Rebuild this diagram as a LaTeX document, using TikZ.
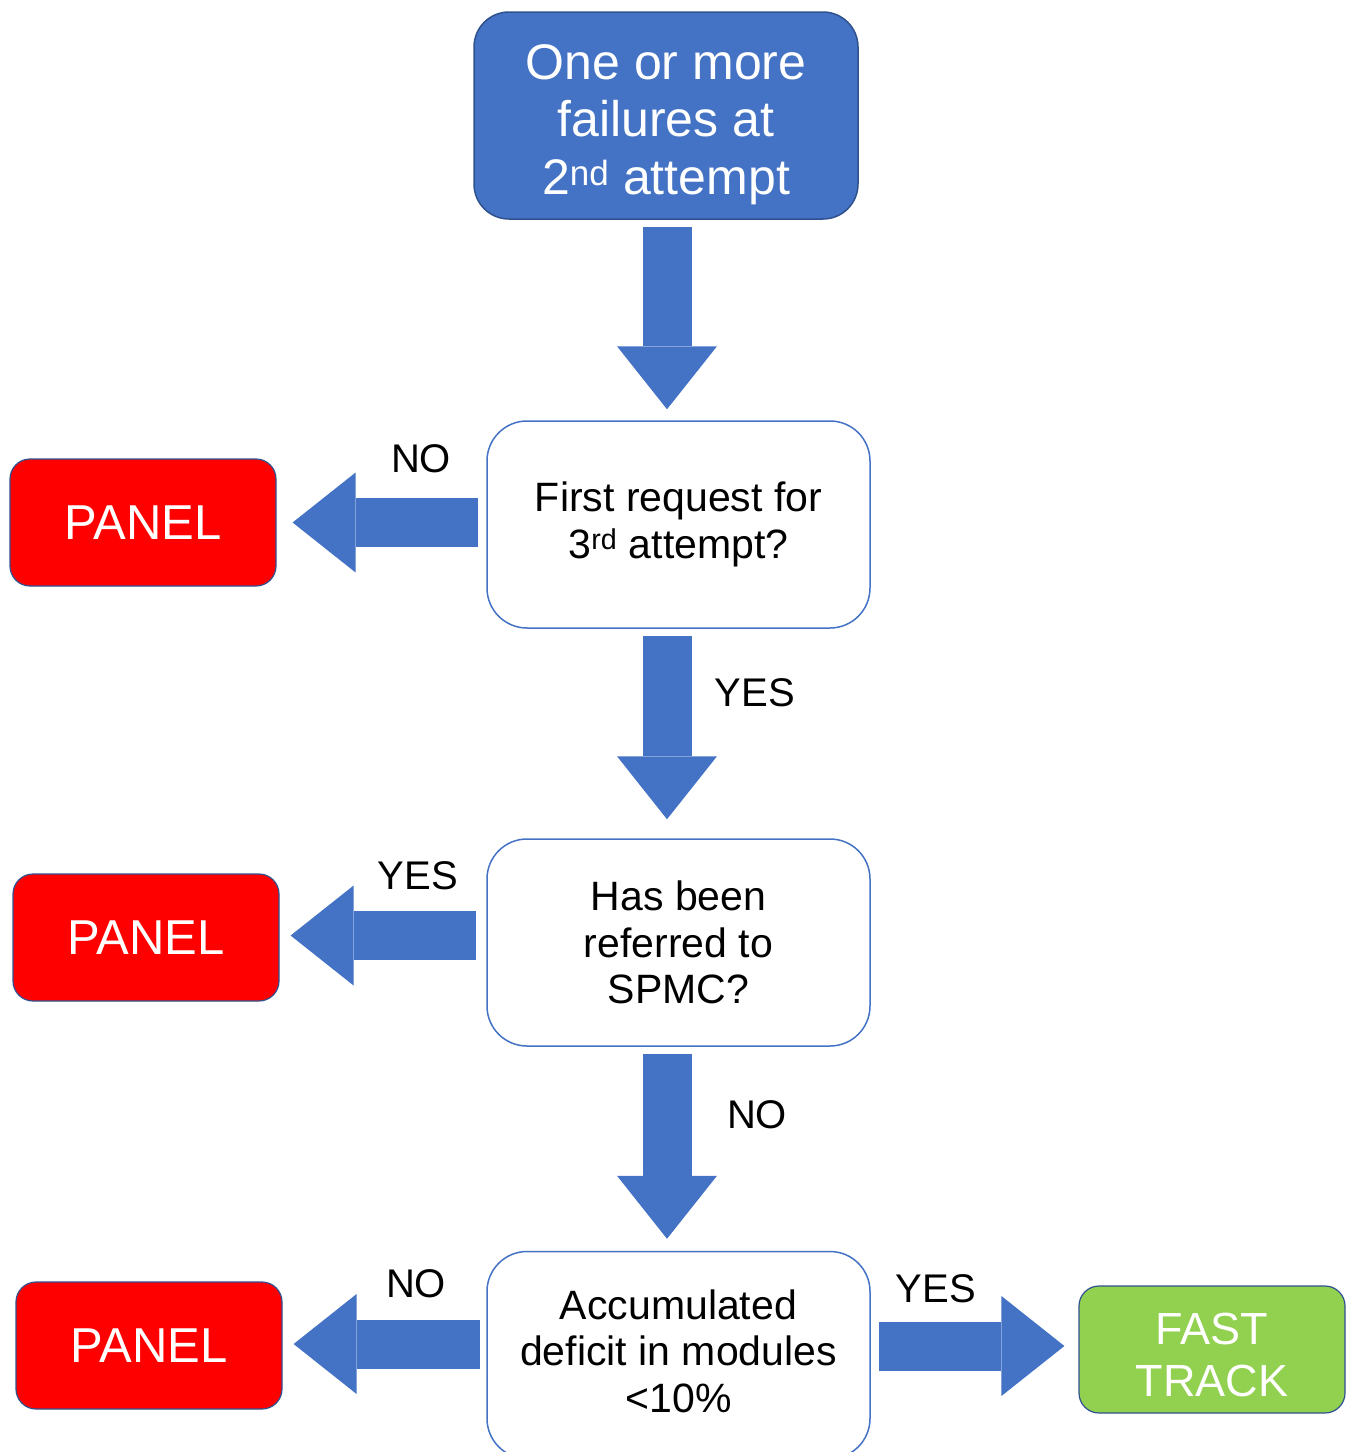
\documentclass[tikz,border=0pt]{standalone}
\usepackage{fontspec}
\setmainfont{Liberation Sans}
\usetikzlibrary{calc,arrows.meta}
\definecolor{ablue}{HTML}{4472C4}
\definecolor{dblue}{HTML}{2F528F}
\definecolor{pred}{HTML}{FF0000}
\definecolor{fgreen}{HTML}{92D050}
\begin{document}
\begin{tikzpicture}[x=1pt,y=-1pt,
  startbox/.style={draw=dblue, line width=1.5pt, fill=ablue, rounded corners=35pt,
    minimum width=384pt, minimum height=207pt, align=center, inner sep=0pt,
    text=white, font=\fontsize{50}{57.5}\selectfont, text depth=0pt, text height=157.5pt},
  qbox/.style={draw=ablue, line width=1.5pt, fill=white, rounded corners=40pt,
    minimum width=383pt, minimum height=207pt, align=center, inner sep=0pt,
    font=\fontsize{41}{46.5}\selectfont},
  endbox/.style={draw=dblue, line width=1.2pt, rounded corners=20pt,
    minimum width=266pt, minimum height=127pt, align=center, inner sep=0pt,
    text=white},
  panelbox/.style={endbox, fill=pred, font=\fontsize{49}{56}\selectfont},
  fastbox/.style={endbox, fill=fgreen, font=\fontsize{45}{52}\selectfont,
    text depth=0pt, text height=94.5pt},
  lbl/.style={inner sep=0pt, font=\fontsize{40}{46}\selectfont},
  barrow/.style={draw=ablue, line width=49pt,
    -{Triangle[width=100pt,length=63pt,line width=0pt]}}
]
\useasboundingbox (0,0) rectangle (1352,1452);

\node[startbox] (top) at (666,115.5) {One or more\\failures at\\2\textsuperscript{nd} attempt};
\node[qbox] (q1) at (678.5,524.5) {First request for\\3\textsuperscript{rd} attempt?};
\node[qbox] (q2) at (678.5,942.5) {Has been\\referred to\\SPMC?};
\node[qbox, text depth=8pt] (q3) at (678.5,1355) {Accumulated\\deficit in modules\\<10\%};

\node[panelbox] (p1) at (143,522.5) {PANEL};
\node[panelbox] (p2) at (146,937.5) {PANEL};
\node[panelbox] (p3) at (149,1345.5) {PANEL};
\node[fastbox] (ft) at (1212,1349.5) {FAST\\TRACK};

\draw[barrow] ($(top.south)+(1,7)$) -- ($(q1.north)+(-11.5,-11)$);
\draw[barrow] ($(q1.west)+(-8,-2)$) -- ($(p1.east)+(16,0)$);
\draw[barrow] ($(q1.south)+(-11.5,7)$) -- ($(q2.north)+(-11.5,-19)$);
\draw[barrow] ($(q2.west)+(-10,-7)$) -- ($(p2.east)+(11,-2)$);
\draw[barrow] ($(q2.south)+(-11.5,7)$) -- ($(q3.north)+(-11.5,-12)$);
\draw[barrow] ($(q3.west)+(-6,-11)$) -- ($(p3.east)+(11,-1.5)$);
\draw[barrow] ($(q3.east)+(8,-9)$) -- ($(ft.west)+(-14,-3.5)$);

\node[lbl] (l1) at (421,459) {NO};
\node[lbl] (l2) at (755,693) {YES};
\node[lbl] (l3) at (418,876) {YES};
\node[lbl] (l4) at (757,1115) {NO};
\node[lbl] (l5) at (416,1284) {NO};
\node[lbl] (l6) at (936,1289) {YES};
\end{tikzpicture}
\end{document}
